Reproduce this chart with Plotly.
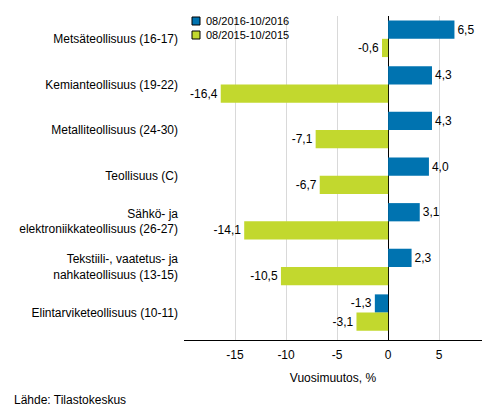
import plotly.graph_objects as go

categories = [
    "Metsäteollisuus (16-17)",
    "Kemianteollisuus (19-22)",
    "Metalliteollisuus (24-30)",
    "Teollisuus (C)",
    "Sähkö- ja<br>elektroniikkateollisuus (26-27)",
    "Tekstiili-, vaatetus- ja<br>nahkateollisuus (13-15)",
    "Elintarviketeollisuus (10-11)",
]
series_2016 = [6.5, 4.3, 4.3, 4.0, 3.1, 2.3, -1.3]
series_2015 = [-0.6, -16.4, -7.1, -6.7, -14.1, -10.5, -3.1]
name_2016 = "08/2016-10/2016"
name_2015 = "08/2015-10/2015"
x_ticks = [-15, -10, -5, 0, 5]

BLUE = "#0073B0"
GREEN = "#C2D82E"

W, H = 493, 416
L, R, T, B = 184, 11, 16, 76
PW, PH = W - L - R, H - T - B

def px_x(p):
    return (p - L) / PW

def px_y(p):
    return (H - B - p) / PH

def fmt(v):
    return f"{v:.1f}".replace(".", ",")

font = "Liberation Sans, Arial, sans-serif"

fig = go.Figure()
fig.add_trace(go.Bar(
    y=categories, x=series_2016, orientation="h", name=name_2016,
    marker=dict(color=BLUE, line=dict(width=0)), text=[fmt(v) for v in series_2016],
    textposition="outside", cliponaxis=False, showlegend=False,
    textfont=dict(size=12, color="#000000", family=font),
))
fig.add_trace(go.Bar(
    y=categories, x=series_2015, orientation="h", name=name_2015,
    marker=dict(color=GREEN, line=dict(width=0)), text=[fmt(v) for v in series_2015],
    textposition="outside", cliponaxis=False, showlegend=False,
    textfont=dict(size=12, color="#000000", family=font),
))

fig.update_layout(
    template="none",
    width=W, height=H,
    margin=dict(l=L, r=R, t=T, b=B, pad=0),
    paper_bgcolor="white", plot_bgcolor="white",
    barmode="group", bargap=0.2, bargroupgap=0,
    font=dict(family=font, size=12, color="#000000"),
    showlegend=False,
    xaxis=dict(
        range=[-20, 9.2], tickvals=x_ticks,
        ticktext=[str(t) for t in x_ticks],
        showgrid=True, gridcolor="#D9D9D9", gridwidth=1,
        zeroline=True, zerolinecolor="#000000", zerolinewidth=1,
        showline=True, linecolor="#000000", linewidth=1,
        ticks="", tickfont=dict(size=12), automargin=False,
        ticklabelstandoff=4,
        title=dict(text="Vuosimuutos, %", font=dict(size=12), standoff=12),
    ),
    yaxis=dict(
        range=[6.6, -0.5], showgrid=False, zeroline=False,
        showline=False, ticks="", tickfont=dict(size=12),
        ticklabelstandoff=5, automargin=False,
    ),
)

# legend (drawn manually for compact layout)
for i, (nm, col) in enumerate([(name_2016, BLUE), (name_2015, GREEN)]):
    cy = 21 + 14 * i
    fig.add_shape(type="rect", xref="paper", yref="paper",
                  x0=px_x(192), x1=px_x(200), y0=px_y(cy + 4), y1=px_y(cy - 4),
                  fillcolor=col, line=dict(color="#000000", width=1), layer="above")
    fig.add_annotation(text=nm, xref="paper", yref="paper",
                       x=px_x(204), y=px_y(cy), xanchor="left", yanchor="middle",
                       showarrow=False, font=dict(size=11))

fig.add_annotation(
    text="Lähde: Tilastokeskus", xref="paper", yref="paper",
    x=px_x(12), y=px_y(400), xanchor="left", yanchor="middle",
    showarrow=False, font=dict(size=12),
)
fig.write_html("out.html", config={"displayModeBar": False},
               post_script="document.body.style.margin='0';")
